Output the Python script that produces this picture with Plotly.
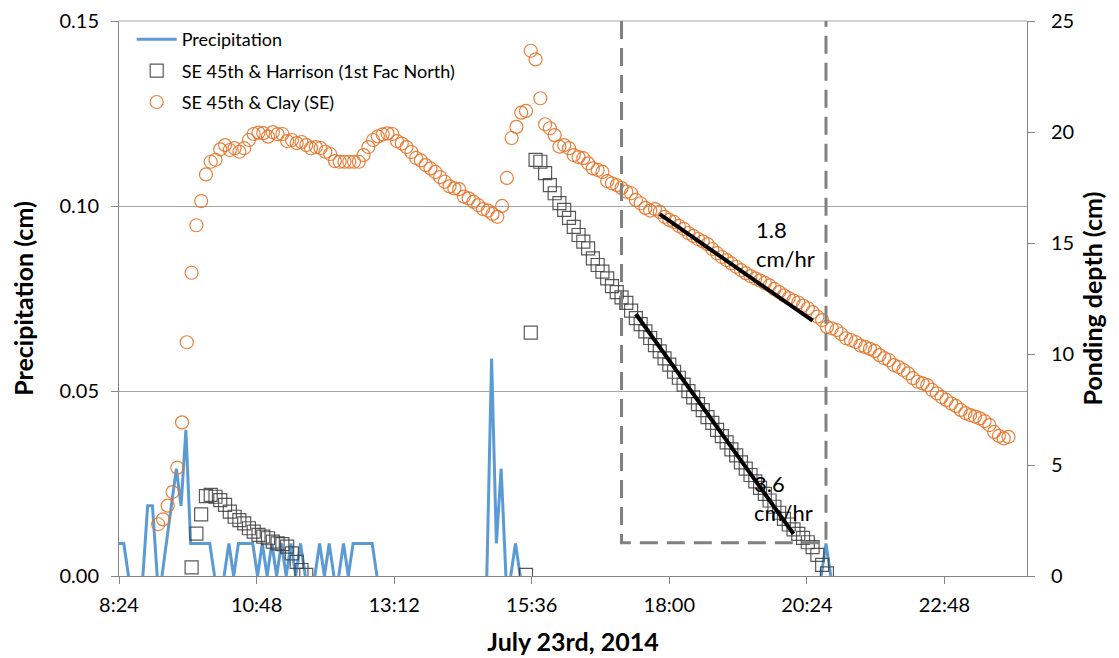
import pandas as pd
import plotly.graph_objects as go

DAY = "2014-07-23"

# Precipitation (cm), 5-minute records, grouped by the start time of each recorded stretch
precip_segments = [
    ("08:24", [0.0088, 0.0088, 0, 0, 0, 0, 0.019, 0.019, 0, 0,
               0.0097, 0.019, 0.029, 0.019, 0.0395, 0.0088, 0.0088, 0.0088, 0.0088, 0.0088,
               0, 0, 0, 0.0088, 0, 0.0088, 0.0088, 0.0088, 0.0088, 0,
               0.0088, 0, 0.0088, 0, 0.0088, 0, 0.0088, 0, 0.0088, 0,
               0, 0, 0.0088, 0, 0.0088, 0, 0, 0.0088, 0, 0.0088,
               0.0088, 0.0088, 0.0088, 0.0088, 0]),
    ("14:49", [0, 0.0588, 0.0088, 0.029, 0, 0, 0.0088, 0]),
    ("20:39", [0, 0.0088, 0]),
]

# Ponding depth (cm), SE 45th & Harrison (1st Fac North)
harrison_segments = [
    ("09:40", [0.39, 1.91, 2.78, 3.60, 3.65, 3.57, 3.42, 3.20, 2.90, 2.67,
               2.52, 2.37, 2.15, 2.00, 1.85, 1.77, 1.70, 1.55, 1.47, 1.44,
               1.32, 1.02, 0.64, 0.27, 0.05]),
    ("15:30", [0.05, 10.96, 18.74, 18.66, 18.15, 17.61, 17.24, 16.80, 16.49, 16.13,
               15.73, 15.36, 15.06, 14.76, 14.31, 14.01, 13.71, 13.41, 13.06, 12.79,
               12.55, 12.30, 11.95, 11.62, 11.35, 11.02, 10.72, 10.40, 10.12, 9.80,
               9.52, 9.20, 8.93, 8.62, 8.33, 8.05, 7.74, 7.47, 7.16, 6.90,
               6.58, 6.30, 6.02, 5.70, 5.43, 5.12, 4.84, 4.55, 4.26, 3.97,
               3.70, 3.40, 3.12, 2.85, 2.57, 2.32, 2.10, 1.90, 1.72, 1.52,
               1.30, 0.95, 0.50, 0.12]),
]

# Ponding depth (cm), SE 45th & Clay (SE)
clay_segments = [
    ("09:05", [2.33, 2.55, 3.17, 3.78, 4.88, 6.92, 10.53, 13.66, 15.80, 16.89,
               18.09, 18.66, 18.75, 19.22, 19.41, 19.19, 19.27, 19.11, 19.27, 19.64,
               19.91, 19.97, 19.95, 19.79, 19.99, 19.90, 19.91, 19.59, 19.64, 19.50,
               19.55, 19.41, 19.27, 19.32, 19.28, 19.11, 19.01, 18.69, 18.66, 18.66,
               18.66, 18.66, 18.66, 18.96, 19.32, 19.64, 19.80, 19.89, 19.94, 19.91,
               19.59, 19.48, 19.32, 19.10, 18.83, 18.72, 18.51, 18.36, 18.20, 17.97,
               17.76, 17.55, 17.46, 17.43, 17.09, 17.01, 16.86, 16.71, 16.53, 16.46,
               16.31, 16.18, 16.67, 17.93, 19.73, 20.23, 20.87, 20.95, 23.66, 23.27,
               21.52, 20.35, 20.17, 19.86, 19.34, 19.41, 19.27, 18.96, 18.87, 18.82,
               18.59, 18.36, 18.29, 18.20, 17.79, 17.69, 17.61, 17.48, 17.31, 17.24,
               16.94, 16.79, 16.58, 16.46, 16.53, 16.40, 16.18, 16.04, 15.95, 15.77,
               15.64, 15.45, 15.32, 15.18, 15.07, 14.95, 14.73, 14.54, 14.37, 14.23,
               14.08, 13.93, 13.78, 13.64, 13.51, 13.41, 13.31, 13.20, 13.09, 12.93,
               12.79, 12.64, 12.52, 12.41, 12.32, 12.18, 12.06, 11.89, 11.68, 11.53,
               11.22, 11.16, 11.08, 10.90, 10.71, 10.63, 10.54, 10.38, 10.32, 10.23,
               10.14, 9.95, 9.81, 9.73, 9.50, 9.41, 9.28, 9.13, 8.91, 8.75,
               8.68, 8.60, 8.38, 8.23, 8.06, 7.93, 7.77, 7.66, 7.48, 7.34,
               7.25, 7.18, 7.10, 6.98, 6.80, 6.49, 6.31, 6.20, 6.27]),
]

# Recession fits: (start time, start depth, end time, rate cm/hr, label)
recession_fits = [
    ("17:50", 16.3, "20:30", 1.8, "1.8"),
    ("17:25", 11.8, "20:10", 3.6, "3.6"),
]
fit_label_pos = [("19:29", 16.3), ("19:27", 4.86)]

# Analysis window (dashed outline)
window_start, window_end, window_floor = "17:10", "20:44", 1.5

x_min, x_max = f"{DAY} 08:24", "2014-07-24 00:14:24"
tick_step_ms = 144 * 60 * 1000


def expand(segments):
    xs, ys = [], []
    for start, vals in segments:
        times = pd.date_range(f"{DAY} {start}", periods=len(vals), freq="5min")
        xs.extend(times)
        ys.extend(vals)
    return xs, ys


def break_zero_runs(xs, ys):
    # Flat stretches at zero sit on the axis; leave them undrawn
    out_x, out_y = [], []
    for k, (x, y) in enumerate(zip(xs, ys)):
        if k > 0 and y == 0 and ys[k - 1] == 0:
            out_x.append(None)
            out_y.append(None)
        out_x.append(x)
        out_y.append(y)
    return out_x, out_y


FONT = "Lato"
GRID = "#a6a6a6"
AXIS = "#868686"

fig = go.Figure()

px_, py_ = break_zero_runs(*expand(precip_segments))
fig.add_trace(go.Scatter(
    x=px_, y=py_, mode="lines", name="Precipitation",
    line=dict(color="#5B9BD5", width=3), connectgaps=False,
    legendgroup="p", yaxis="y"))

hx, hy = expand(harrison_segments)
fig.add_trace(go.Scatter(
    x=hx, y=hy, mode="markers", name="SE 45th & Harrison (1st Fac North)",
    marker=dict(symbol="square-open", size=13, color="rgba(60,60,60,0.85)",
                line=dict(width=1.2)),
    legendgroup="h", yaxis="y2"))

cx, cy = expand(clay_segments)
fig.add_trace(go.Scatter(
    x=cx, y=cy, mode="markers", name="SE 45th & Clay (SE)",
    marker=dict(symbol="circle-open", size=13, color="rgba(230,115,40,0.9)",
                line=dict(width=1.2)),
    legendgroup="c", yaxis="y2"))

for (t0, d0, t1, rate, label), (lx, ly) in zip(recession_fits, fit_label_pos):
    ts0 = pd.Timestamp(f"{DAY} {t0}")
    ts1 = pd.Timestamp(f"{DAY} {t1}")
    hours = (ts1 - ts0).total_seconds() / 3600
    fig.add_trace(go.Scatter(
        x=[ts0, ts1], y=[d0, d0 - rate * hours], mode="lines",
        line=dict(color="black", width=4), showlegend=False,
        hoverinfo="skip", yaxis="y2"))
    fig.add_annotation(
        x=pd.Timestamp(f"{DAY} {lx}"), y=ly, xref="x", yref="y2",
        text=f"{label}<br>cm/hr", showarrow=False, xanchor="left", yanchor="top",
        align="left", font=dict(family=FONT, size=22, color="#000000"))

ws = pd.Timestamp(f"{DAY} {window_start}")
we = pd.Timestamp(f"{DAY} {window_end}")
fig.add_trace(go.Scatter(
    x=[ws, ws, we, we], y=[25, window_floor, window_floor, 25], mode="lines",
    line=dict(color="#808080", width=3, dash="18px,9px"),
    showlegend=False, hoverinfo="skip", yaxis="y2"))

# Top border of the plot area
fig.add_shape(type="line", xref="paper", yref="paper", x0=0, x1=1, y0=1, y1=1,
              line=dict(color=GRID, width=1), layer="below")

tick_font = dict(family=FONT, size=20, color="#000000")
title_font = dict(family=FONT, size=25, color="#000000")

fig.update_layout(
    width=1119, height=658,
    margin=dict(l=119, r=92, t=21, b=82),
    paper_bgcolor="white", plot_bgcolor="white",
    font=dict(family=FONT, color="#000000"),
    showlegend=True,
    legend=dict(x=0.014, y=1.0, xanchor="left", yanchor="top",
                bgcolor="rgba(0,0,0,0)", font=dict(family=FONT, size=18, color="#000000"),
                tracegroupgap=5, itemwidth=40),
    xaxis=dict(
        type="date", range=[x_min, x_max], tick0=x_min, dtick=tick_step_ms,
        tickformat="%-H:%M", ticks="outside", ticklen=7, tickcolor=AXIS,
        showline=True, linecolor=AXIS, linewidth=1, showgrid=False, zeroline=False,
        tickfont=tick_font, ticklabelstandoff=4, automargin=False,
        title=dict(text="<b>July 23rd, 2014</b>", font=title_font, standoff=18)),
    yaxis=dict(
        range=[0, 0.15], dtick=0.05, tickformat=".2f", ticks="outside",
        ticklen=7, tickcolor=AXIS, showline=True, linecolor=AXIS,
        showgrid=True, gridcolor=GRID, gridwidth=1, zeroline=False,
        tickfont=tick_font, ticklabelstandoff=8, automargin=False,
        title=dict(text="<b>Precipitation (cm)</b>", font=title_font, standoff=18)),
    yaxis2=dict(
        overlaying="y", side="right", range=[0, 25], dtick=5,
        ticks="outside", ticklen=7, tickcolor=AXIS, showline=True,
        linecolor=AXIS, showgrid=False, zeroline=False, tickfont=tick_font,
        ticklabelstandoff=12, automargin=False,
        title=dict(text="<b>Ponding depth (cm)</b>", font=title_font, standoff=11)),
)

fig.write_html("out.html")
